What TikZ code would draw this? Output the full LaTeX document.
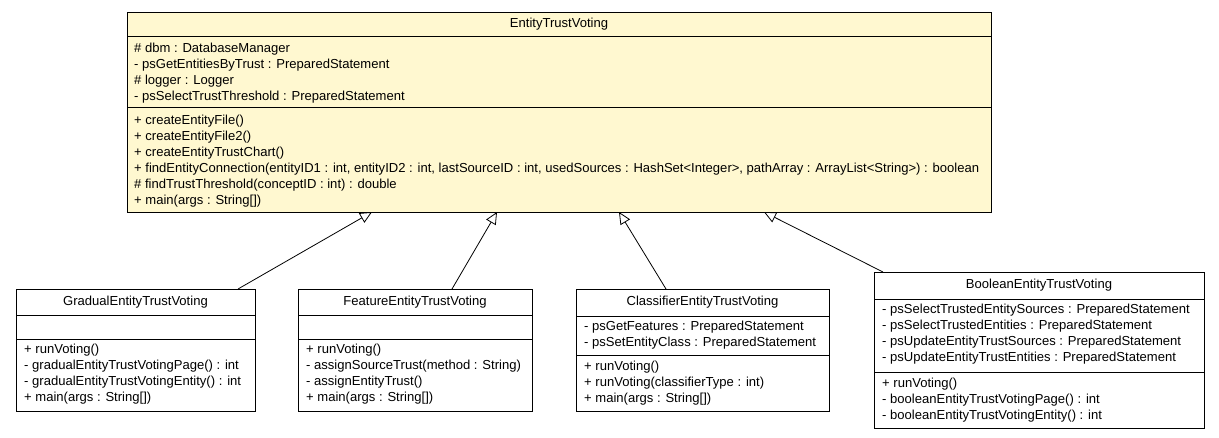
\documentclass[tikz,border=0pt]{standalone}
\usepackage{fontspec}
\setmainfont{Liberation Sans}
\usetikzlibrary{arrows.meta,shadows}
\definecolor{umlyellow}{HTML}{FFF8D0}
\newcommand\umlfont{\fontsize{13.05}{16}\selectfont}
\begin{document}
\begin{tikzpicture}[x=1pt,y=-1pt,
  umlbox/.style={draw=black, line width=0.9pt, rectangle, inner sep=0, outer sep=0, anchor=north west,
    drop shadow={shadow xshift=1.3pt,shadow yshift=-1.3pt,fill=black!60,opacity=1}},
  umltitle/.style={font=\umlfont, anchor=center, inner sep=0},
  umlcomp/.style={font=\umlfont, align=left, anchor=north west, inner sep=0},
  divider/.style={draw=black, line width=0.9pt},
  inherit/.style={draw=black, line width=0.8pt, -{Triangle[open,length=12pt,width=11pt]}}
]
\useasboundingbox (0,0) rectangle (1219,437);

% main class
\node[umlbox, fill=umlyellow, minimum width=864pt, minimum height=200pt] (main) at (127,12) {};
\draw[divider] ([yshift=-24pt]main.north west) -- ([yshift=-24pt]main.north east);
\draw[divider] ([yshift=-95pt]main.north west) -- ([yshift=-95pt]main.north east);
\node[umltitle] (maint) at (559,24.5) {EntityTrustVoting};
\node[umlcomp] (maina) at (134,40.8) {\strut\# dbm : DatabaseManager\\- psGetEntitiesByTrust : PreparedStatement\\\# logger : Logger\\- psSelectTrustThreshold : PreparedStatement};
\node[umlcomp] (mainm) at (134,113.3) {\strut+ createEntityFile()\\+ createEntityFile2()\\+ createEntityTrustChart()\\+ findEntityConnection(entityID1 : int, entityID2 : int, lastSourceID : int, usedSources : HashSet<Integer>, pathArray : ArrayList<String>) : boolean\\\# findTrustThreshold(conceptID : int) : double\\+ main(args : String[])};

% Gradual
\node[umlbox, fill=white, minimum width=239pt, minimum height=122pt] (grad) at (16,289) {};
\draw[divider] ([yshift=-26pt]grad.north west) -- ([yshift=-26pt]grad.north east);
\draw[divider] ([yshift=-50pt]grad.north west) -- ([yshift=-50pt]grad.north east);
\node[umltitle] (gradt) at (135.5,302) {GradualEntityTrustVoting};
\node[umlcomp] (gradm) at (24,342.3) {\strut+ runVoting()\\- gradualEntityTrustVotingPage() : int\\- gradualEntityTrustVotingEntity() : int\\+ main(args : String[])};

% Feature
\node[umlbox, fill=white, minimum width=234pt, minimum height=122pt] (feat) at (298,289) {};
\draw[divider] ([yshift=-26pt]feat.north west) -- ([yshift=-26pt]feat.north east);
\draw[divider] ([yshift=-50pt]feat.north west) -- ([yshift=-50pt]feat.north east);
\node[umltitle] (featt) at (415,302) {FeatureEntityTrustVoting};
\node[umlcomp] (featm) at (306,342.3) {\strut+ runVoting()\\- assignSourceTrust(method : String)\\- assignEntityTrust()\\+ main(args : String[])};

% Classifier
\node[umlbox, fill=white, minimum width=253pt, minimum height=122pt] (cls) at (576,289) {};
\draw[divider] ([yshift=-27pt]cls.north west) -- ([yshift=-27pt]cls.north east);
\draw[divider] ([yshift=-66pt]cls.north west) -- ([yshift=-66pt]cls.north east);
\node[umltitle] (clst) at (702.5,302.5) {ClassifierEntityTrustVoting};
\node[umlcomp] (clsa) at (584,319.3) {\strut- psGetFeatures : PreparedStatement\\- psSetEntityClass : PreparedStatement};
\node[umlcomp] (clsm) at (584,359.3) {\strut+ runVoting()\\+ runVoting(classifierType : int)\\+ main(args : String[])};

% Boolean
\node[umlbox, fill=white, minimum width=330pt, minimum height=156pt] (bool) at (874,272) {};
\draw[divider] ([yshift=-27pt]bool.north west) -- ([yshift=-27pt]bool.north east);
\draw[divider] ([yshift=-100pt]bool.north west) -- ([yshift=-100pt]bool.north east);
\node[umltitle] (boolt) at (1039,285.5) {BooleanEntityTrustVoting};
\node[umlcomp] (boola) at (882,302.3) {\strut- psSelectTrustedEntitySources : PreparedStatement\\- psSelectTrustedEntities : PreparedStatement\\- psUpdateEntityTrustSources : PreparedStatement\\- psUpdateEntityTrustEntities : PreparedStatement};
\node[umlcomp] (boolm) at (882,376.3) {\strut+ runVoting()\\- booleanEntityTrustVotingPage() : int\\- booleanEntityTrustVotingEntity() : int};

% generalizations
\draw[inherit] ([xshift=222pt]grad.north west) -- ([xshift=245pt]main.south west);
\draw[inherit] ([xshift=154pt]feat.north west) -- ([xshift=370pt]main.south west);
\draw[inherit] ([xshift=90pt]cls.north west) -- ([xshift=492pt]main.south west);
\draw[inherit] ([xshift=9pt]bool.north west) -- ([xshift=637pt]main.south west);
\end{tikzpicture}
\end{document}
